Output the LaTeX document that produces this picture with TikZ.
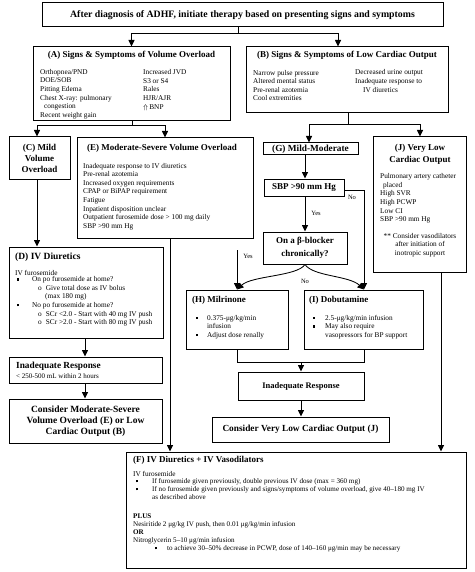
\documentclass[tikz,border=0pt]{standalone}
\usepackage{fontspec}
\setmainfont{Liberation Serif}
\usetikzlibrary{arrows.meta}
\newcommand\bul{\raisebox{1.2pt}{\rule{2.2pt}{2.2pt}}}
\newcommand\li[2]{\makebox[#1][l]{\bul}#2}
\newcommand\bx[5]{\node[box, minimum width={#4-#2}, minimum height={#5-#3}] (#1) at ({(#2+#4)/2},{(#3+#5)/2}) {};}
\begin{document}
\begin{tikzpicture}[x=1pt,y=-1pt,
  box/.style={draw, line width=1pt, inner sep=0pt},
  txt/.style={inner sep=0pt, align=left, anchor=west, font=\fontsize{7.3}{8.6}\selectfont},
  ttl/.style={inner sep=0pt, align=center, font=\fontsize{9}{11}\selectfont\bfseries},
  lbl/.style={inner sep=0pt, font=\fontsize{6.5}{8}\selectfont},
  ln/.style={line width=0.85pt},
  arr/.style={line width=0.85pt, -{Triangle[length=6.5pt,width=6pt]}}]
\useasboundingbox (0,0) rectangle (474,572);
% boxes
\bx{top}{42}{3}{443}{27}
\bx{A}{33}{47}{230}{121}
\bx{B}{246}{47}{448}{113}
\bx{C}{9}{137}{70}{179}
\bx{E}{77}{138}{253}{238}
\bx{G}{263}{143}{358}{155}
\bx{J}{373}{137}{466}{272}
\bx{SBP}{264}{179}{344}{196}
\bx{beta}{263}{232}{347}{264}
\bx{D}{9}{247}{163}{338}
\bx{H}{186}{290}{288}{349}
\bx{I}{304}{290}{423}{349}
\bx{inadL}{9}{357}{162}{383}
\bx{consE}{9}{399}{162}{443}
\bx{inadR}{238}{372}{364}{400}
\bx{consJ}{212}{417}{389}{442}
\bx{F}{126}{452}{466}{568}
% texts
\node[ttl, font=\fontsize{9.8}{11}\selectfont\bfseries] (ttop) at (242.5,15.5) {After diagnosis of ADHF, initiate therapy based on presenting signs and symptoms};
\node[ttl] (tA) at (131.5,55) {(A) Signs \& Symptoms of Volume Overload};
\node[txt] (tA1) at (40,94) {Orthopnea/PND\\DOE/SOB\\Pitting Edema\\Chest X-ray: pulmonary\\\hspace*{4pt}congestion\\Recent weight gain};
\node[txt] (tA2) at (143,90) {Increased JVD\\S3 or S4\\Rales\\HJR/AJR\\$\Uparrow$\,BNP};
\node[ttl] (tB) at (347,55) {(B) Signs \& Symptoms of Low Cardiac Output};
\node[txt] (tB1) at (253,85.5) {Narrow pulse pressure\\Altered mental status\\Pre-renal azotemia\\Cool extremities};
\node[txt] (tB2) at (355,81) {Decreased urine output\\Inadequate response to\\\hspace*{8pt}IV diuretics};
\node[ttl] (tC) at (39.5,158) {(C) Mild\\Volume\\Overload};
\node[ttl] (tE) at (162,148) {(E) Moderate-Severe Volume Overload};
\node[txt] (tE1) at (83,196.5) {Inadequate response to IV diuretics\\Pre-renal azotemia\\Increased oxygen requirements\\CPAP or BiPAP requirement\\Fatigue\\Inpatient disposition unclear\\Outpatient furosemide dose > 100 mg daily\\SBP >90 mm Hg};
\node[ttl, font=\fontsize{9.3}{10}\selectfont\bfseries] (tG) at (310.5,149) {(G) Mild-Moderate};
\node[ttl, font=\fontsize{9}{10}\selectfont\bfseries] (tS) at (304,187.5) {SBP >90 mm Hg};
\node[ttl, font=\fontsize{9}{12.5}\selectfont\bfseries] (tbeta) at (305,248) {On a β-blocker\\chronically?};
\node[ttl, font=\fontsize{9}{12}\selectfont\bfseries] (tJ) at (420,154) {(J) Very Low\\Cardiac Output};
\node[txt] (tJ1) at (380,198.5) {Pulmonary artery catheter\\\hspace*{3pt}placed\\High SVR\\High PCWP\\Low CI\\SBP >90 mm Hg};
\node[txt, align=center, anchor=center] (tJ2) at (420,245) {** Consider vasodilators\\after initiation of\\inotropic support};
\node[ttl, anchor=west, font=\fontsize{9.5}{11}\selectfont\bfseries] (tD) at (15,257) {(D) IV Diuretics};
\node[txt] (tD0) at (15,273) {IV furosemide};
\node[txt] (tD1) at (15,301.5) {\hspace*{2pt}\li{15pt}{On po furosemide at home?}\\
\hspace*{23pt}o\hspace{4pt}Give total dose as IV bolus\\
\hspace*{30pt}(max 180 mg)\\
\hspace*{2pt}\li{15pt}{No po furosemide at home?}\\
\hspace*{23pt}o\hspace{4pt}SCr <2.0 - Start with 40 mg IV push\\
\hspace*{23pt}o\hspace{4pt}SCr >2.0 - Start with 80 mg IV push};
\node[ttl, anchor=west] (tH) at (192,300) {(H) Milrinone};
\node[txt] (tH1) at (196,327) {\li{11pt}{0.375-μg/kg/min}\\\hspace*{11pt}infusion\\\li{11pt}{Adjust dose renally}};
\node[ttl, anchor=west] (tI) at (309,300) {(I) Dobutamine};
\node[txt] (tI1) at (313,327) {\li{12pt}{2.5-μg/kg/min infusion}\\\li{12pt}{May also require}\\\hspace*{12pt}vasopressors for BP support};
\node[ttl, anchor=west, font=\fontsize{9.3}{11}\selectfont\bfseries] (tiL) at (16,366) {Inadequate Response};
\node[txt, font=\fontsize{7}{8}\selectfont] (tiL2) at (16,376) {< 250-500 mL within 2 hours};
\node[ttl, font=\fontsize{9.5}{11}\selectfont\bfseries] (tcE) at (85.5,421) {Consider Moderate-Severe\\Volume Overload (E) or Low\\Cardiac Output (B)};
\node[ttl, font=\fontsize{8.5}{10}\selectfont\bfseries] (tiR) at (301,386) {Inadequate Response};
\node[ttl, font=\fontsize{9.3}{11}\selectfont\bfseries] (tcJ) at (300.5,429.5) {Consider Very Low Cardiac Output (J)};
\node[ttl, anchor=west] (tF) at (133,460) {(F) IV Diuretics + IV Vasodilators};
\node[txt] (tF0) at (133,474) {IV furosemide};
\node[txt, font=\fontsize{7.1}{8}\selectfont] (tF1) at (136,489) {\li{16pt}{If furosemide given previously, double previous IV dose (max = 360 mg)}\\
\li{16pt}{If no furosemide given previously and signs/symptoms of volume overload, give 40–180 mg IV}\\
\hspace*{16pt}as described above};
\node[txt, font=\fontsize{7.1}{8}\selectfont] (tF2) at (133,533) {\textbf{PLUS}\\
Nesiritide 2 μg/kg IV push, then 0.01 μg/kg/min infusion\\
\textbf{OR}\\
Nitroglycerin 5–10 μg/min infusion\\
\hspace*{22pt}\li{12pt}{to achieve 30–50\% decrease in PCWP, dose of 140–160 μg/min may be necessary}};
% connector coordinates
\coordinate (j0) at (238,33);
\coordinate (xB) at (338,0);
\coordinate (j1) at (132,125);
\coordinate (xC) at (37,0);
\coordinate (xE) at (165,0);
\coordinate (j2) at (348,124);
\coordinate (xG) at (309,0);
\coordinate (xJ) at (420,0);
\coordinate (xS) at (305,0);
\coordinate (nA) at (344,190);
\coordinate (xN) at (364,0);
\coordinate (ys) at (237,250);
\coordinate (hb) at (237,362);
\coordinate (ib) at (364,362);
\coordinate (xJF) at (441,0);
\coordinate (xEF) at (170,0);
\coordinate (xD) at (85,0);
% connectors
\draw[ln] (top.south -| j0) -- (j0);
\draw[arr] (j0) -| (A.north);
\draw[arr] (j0) -| (B.north -| xB);
\draw[ln] (A.south -| j1) -- (j1);
\draw[arr] (j1) -| (C.north -| xC);
\draw[arr] (j1) -| (E.north -| xE);
\draw[ln] (B.south -| j2) -- (j2);
\draw[arr] (j2) -| (G.north -| xG);
\draw[arr] (j2) -| (J.north -| xJ);
\draw[arr] (G.south -| xS) -- (SBP.north -| xS);
\draw[arr] (SBP.south -| xS) -- (beta.north -| xS);
\draw[arr] (SBP.east |- nA) -| (I.north -| xN);
\draw[arr] (ys) -- (H.north -| ys);
\draw[arr] (beta.south) .. controls +(-8,12) and +(15,-14) .. (H.north -| ys);
\draw[arr] (beta.south) .. controls +(8,12) and +(-15,-14) .. (I.north -| xN);
\draw[ln] (H.south -| hb) -- (hb) -- (ib) -- (I.south -| ib);
\draw[arr] (inadR.north |- hb) -- (inadR.north);
\draw[arr] (inadR.south) -- (consJ.north -| inadR.south);
\draw[arr] (J.south -| xJF) -- (F.north -| xJF);
\draw[arr] (E.south -| xEF) -- (F.north -| xEF);
\draw[arr] (C.south -| xC) -- (D.north -| xC);
\draw[arr] (D.south -| xD) -- (inadL.north -| xD);
\draw[arr] (inadL.south -| xD) -- (consE.north -| xD);
% labels
\node[lbl] (lNo) at (352,197) {No};
\node[lbl] (lYes) at (316,213) {Yes};
\node[lbl] (lYes2) at (248,256) {Yes};
\node[lbl] (lNo2) at (305,281) {No};
\end{tikzpicture}
\end{document}
